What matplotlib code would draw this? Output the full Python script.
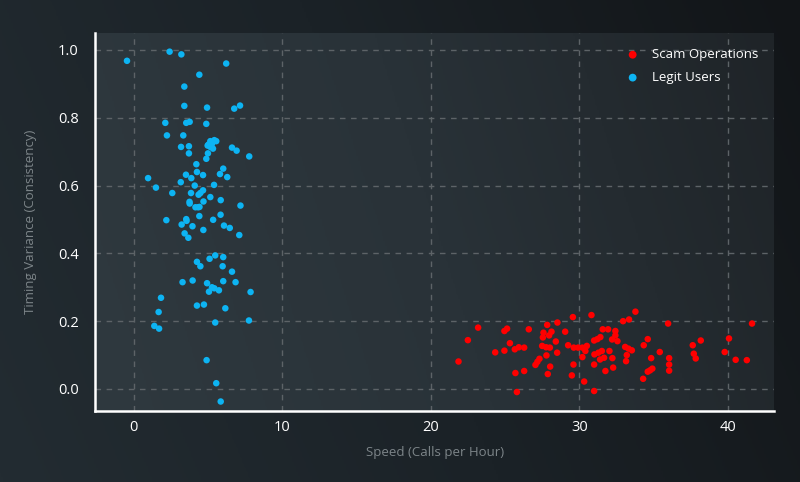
import numpy as np
import matplotlib
matplotlib.use("Agg")
import matplotlib.pyplot as plt
from matplotlib.colors import LinearSegmentedColormap

plt.rcParams['font.family'] = ['Open Sans', 'DejaVu Sans']

# ---------------- data ----------------
scam_speed = [21.86, 22.49, 23.18, 24.95, 25.13, 26.59, 25.32, 24.33, 24.95, 25.65,
              25.92, 26.28, 25.69, 26.28, 25.79, 27.04, 27.17, 27.31, 27.83, 28.52,
              27.58, 27.54, 27.96, 28.12, 27.49, 27.76, 28.01, 28.41, 29.04, 27.78,
              28.50, 28.03, 27.87, 29.24, 29.56, 30.81, 29.62, 29.91, 30.20, 30.50,
              30.40, 30.20, 29.60, 29.49, 30.32, 30.99, 30.99, 31.21, 31.41, 31.57,
              31.93, 31.01, 31.28, 31.51, 31.66, 31.39, 30.99, 31.75, 32.02, 33.77,
              32.94, 33.34, 35.97, 41.62, 32.42, 32.42, 32.20, 32.56, 34.60, 34.33,
              33.08, 33.30, 33.53, 33.19, 35.41, 34.83, 36.04, 36.04, 36.04, 32.22,
              33.14, 32.27, 34.91, 34.76, 34.60, 34.29, 37.63, 38.17, 37.70, 37.83,
              40.07, 39.78, 40.52, 41.27]
scam_var = [0.081, 0.144, 0.181, 0.171, 0.178, 0.176, 0.135, 0.108, 0.113, 0.117,
            0.123, 0.122, 0.047, 0.053, -0.009, 0.071, 0.080, 0.089, 0.189, 0.196,
            0.166, 0.152, 0.158, 0.169, 0.127, 0.123, 0.122, 0.140, 0.169, 0.099,
            0.107, 0.066, 0.044, 0.129, 0.212, 0.218, 0.122, 0.122, 0.122, 0.127,
            0.112, 0.094, 0.072, 0.040, 0.022, -0.006, 0.143, 0.147, 0.153, 0.176,
            0.176, 0.102, 0.107, 0.112, 0.092, 0.087, 0.072, 0.053, 0.112, 0.228,
            0.200, 0.205, 0.193, 0.193, 0.171, 0.158, 0.146, 0.141, 0.147, 0.129,
            0.124, 0.119, 0.114, 0.100, 0.109, 0.091, 0.091, 0.072, 0.054, 0.091,
            0.082, 0.063, 0.060, 0.055, 0.051, 0.030, 0.129, 0.143, 0.104, 0.090,
            0.149, 0.109, 0.086, 0.085]

legit_speed = [-0.46, 2.41, 3.20, 6.22, 4.41, 3.40, 3.40, 4.93, 6.76, 7.15,
               2.12, 3.53, 3.76, 4.88, 2.23, 3.33, 5.15, 5.42, 5.55, 5.03,
               5.26, 5.15, 5.33, 4.97, 3.18, 3.71, 3.71, 4.99, 4.88, 6.61,
               6.92, 7.77, 4.21, 6.02, 4.25, 3.51, 3.87, 4.66, 5.80, 6.29,
               0.96, 1.49, 3.16, 4.10, 5.40, 2.59, 3.85, 4.36, 4.48, 4.66,
               5.15, 3.75, 3.76, 4.69, 5.85, 7.18, 4.15, 4.33, 4.42, 4.41,
               5.84, 2.19, 3.53, 3.55, 5.34, 3.22, 3.95, 6.07, 6.46, 4.68,
               3.42, 3.67, 7.10, 4.25, 4.48, 5.10, 5.48, 6.02, 5.98, 6.61,
               3.28, 3.96, 4.93, 6.02, 6.85, 5.26, 5.42, 5.06, 5.73, 7.86,
               1.83, 4.25, 4.72, 6.16, 1.67, 1.38, 1.70, 5.48, 7.75, 4.90,
               5.55, 5.85]
legit_var = [0.968, 0.995, 0.987, 0.960, 0.927, 0.892, 0.835, 0.830, 0.827, 0.836,
             0.785, 0.785, 0.788, 0.782, 0.748, 0.748, 0.731, 0.734, 0.731, 0.721,
             0.723, 0.714, 0.709, 0.718, 0.714, 0.716, 0.695, 0.695, 0.679, 0.712,
             0.703, 0.686, 0.663, 0.650, 0.640, 0.632, 0.622, 0.631, 0.634, 0.625,
             0.622, 0.594, 0.610, 0.600, 0.602, 0.578, 0.578, 0.573, 0.578, 0.586,
             0.566, 0.552, 0.547, 0.553, 0.557, 0.541, 0.536, 0.536, 0.537, 0.510,
             0.514, 0.498, 0.501, 0.496, 0.499, 0.485, 0.480, 0.482, 0.475, 0.469,
             0.459, 0.446, 0.454, 0.375, 0.362, 0.384, 0.394, 0.389, 0.362, 0.346,
             0.315, 0.320, 0.312, 0.318, 0.315, 0.300, 0.297, 0.287, 0.291, 0.286,
             0.269, 0.246, 0.249, 0.238, 0.227, 0.186, 0.178, 0.196, 0.202, 0.085,
             0.017, -0.037]

x_ticks = [0, 10, 20, 30, 40]
y_ticks = [0.0, 0.2, 0.4, 0.6, 0.8, 1.0]
series_labels = ["Scam Operations", "Legit Users"]
series_colors = ["#ff0000", "#0db4f3"]
x_label = "Speed (Calls per Hour)"
y_label = "Timing Variance (Consistency)"

# ---------------- figure ----------------
fig = plt.figure(figsize=(8.0, 4.82), dpi=100)

# figure background gradient
bg_ax = fig.add_axes([0, 0, 1, 1], zorder=-10)
bg_ax.set_axis_off()
gx, gy = np.meshgrid(np.linspace(0, 1, 400), np.linspace(0, 1, 240))
fig_grad = 0.8 * gx + 0.2 * (1 - gy)
fig_cmap = LinearSegmentedColormap.from_list("figbg", ["#232c32", "#1b2227", "#121518"])
bg_ax.imshow(fig_grad, cmap=fig_cmap, aspect='auto', extent=[0, 1, 0, 1], origin='upper')
bg_ax.set_xlim(0, 1)
bg_ax.set_ylim(0, 1)

pos = [0.119, 0.148, 0.8485, 0.7835]

# axes background gradient
ab_ax = fig.add_axes(pos, zorder=-5)
ab_ax.set_axis_off()
ax_grad = 0.85 * gx + 0.15 * (1 - gy)
ax_cmap = LinearSegmentedColormap.from_list("axbg", ["#2f393f", "#293238", "#1f2428"])
ab_ax.imshow(ax_grad, cmap=ax_cmap, aspect='auto', extent=[0, 1, 0, 1], origin='upper')
ab_ax.set_xlim(0, 1)
ab_ax.set_ylim(0, 1)

ax = fig.add_axes(pos)
ax.set_facecolor("none")

ax.scatter(scam_speed, scam_var, s=22, color=series_colors[0], edgecolors='none',
           label=series_labels[0], zorder=3)
ax.scatter(legit_speed, legit_var, s=22, color=series_colors[1], edgecolors='none',
           label=series_labels[1], zorder=3)

ax.set_xlim(-2.6, 43.1)
ax.set_ylim(-0.064, 1.05)
ax.set_xticks(x_ticks)
ax.set_yticks(y_ticks)
ax.set_xticklabels([str(t) for t in x_ticks])
ax.set_yticklabels([f"{t:.1f}" for t in y_ticks])

ax.grid(True, color="#5d6367", linestyle=(0, (4, 4)), linewidth=1.0)
ax.set_axisbelow(True)

for side in ["top", "right"]:
    ax.spines[side].set_visible(False)
for side in ["left", "bottom"]:
    ax.spines[side].set_color("white")
    ax.spines[side].set_linewidth(1.8)

ax.tick_params(axis='both', length=0, colors="white", labelsize=10.5)
ax.tick_params(axis='y', pad=12)
ax.tick_params(axis='x', pad=7)

ax.set_xlabel(x_label, color="#7d8589", fontsize=9.5, labelpad=8)
ax.set_ylabel(y_label, color="#7d8589", fontsize=9.5, labelpad=15)

leg = ax.legend(loc='upper right', frameon=False, fontsize=9.5, labelcolor="white",
                handletextpad=0.5, markerscale=1.2, borderaxespad=0.75,
                labelspacing=0.75)

fig.savefig("out.png", dpi=100, facecolor=fig.get_facecolor())
